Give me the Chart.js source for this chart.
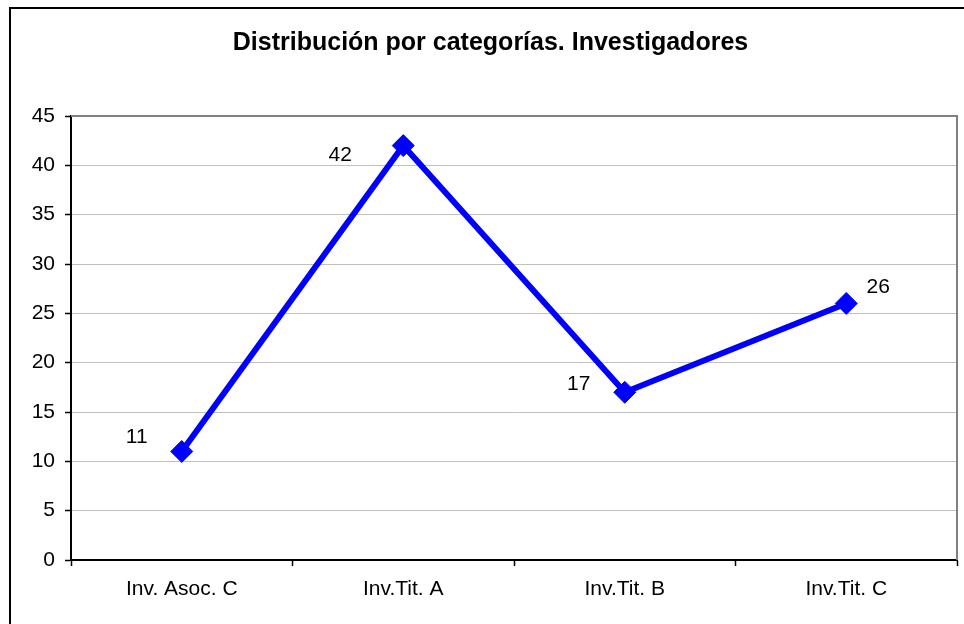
<!DOCTYPE html>
<html>
<head>
<meta charset="utf-8">
<title>Distribución por categorías. Investigadores</title>
<script src="https://cdn.jsdelivr.net/npm/chart.js@4.4.0/dist/chart.umd.min.js"></script>
<style>
    html, body { margin: 0; padding: 0; background: #fff; }
    canvas { display: block; }
</style>
</head>
<body>
<canvas id="chart" width="964" height="624"></canvas>
<script>
const categories = ['Inv. Asoc. C', 'Inv.Tit. A', 'Inv.Tit. B', 'Inv.Tit. C'];
const investigadores = [11, 42, 17, 26];
const yTicks = [0, 5, 10, 15, 20, 25, 30, 35, 40, 45];

const FONT = 'Arial, "Liberation Sans", sans-serif';

// label placement around each point (Excel put them a bit off)
const labelShift = [[-45, -14], [-63, 10], [-46, -8], [32, -16]];

const frame = {
    id: 'frame',
    beforeDatasetsDraw(chart) {
        const { ctx, chartArea: a } = chart;
        ctx.save();
        ctx.strokeStyle = '#808080';
        ctx.lineWidth = 2;
        ctx.beginPath();
        ctx.moveTo(a.left, a.top);
        ctx.lineTo(a.right, a.top);
        ctx.lineTo(a.right, a.bottom);
        ctx.stroke();
        ctx.restore();
    },
    afterDraw(chart) {
        const { ctx, width, height } = chart;
        ctx.save();
        // outer chart border
        ctx.strokeStyle = '#000';
        ctx.lineWidth = 2;
        ctx.beginPath();
        ctx.moveTo(10, height);
        ctx.lineTo(10, 8);
        ctx.lineTo(width, 8);
        ctx.stroke();

        // value labels
        const meta = chart.getDatasetMeta(0);
        ctx.fillStyle = '#000';
        ctx.font = '21px ' + FONT;
        ctx.textAlign = 'center';
        ctx.textBaseline = 'middle';
        meta.data.forEach((pt, i) => {
            const [dx, dy] = labelShift[i];
            ctx.fillText(String(investigadores[i]), pt.x + dx, pt.y + dy);
        });
        ctx.restore();
    }
};

new Chart(document.getElementById('chart'), {
    type: 'line',
    data: {
        labels: categories,
        datasets: [{
            data: investigadores,
            borderColor: '#0000ff',
            backgroundColor: '#0000ff',
            borderWidth: 6,
            tension: 0,
            pointStyle: 'rectRot',
            pointRadius: 11,
            pointBorderWidth: 1,
            pointHoverRadius: 11
        }]
    },
    options: {
        responsive: false,
        animation: false,
        devicePixelRatio: 1,
        layout: {
            autoPadding: false,
            padding: { top: 0, left: 24, right: 7, bottom: 0 }
        },
        plugins: {
            legend: { display: false },
            tooltip: { enabled: false },
            title: {
                display: true,
                text: 'Distribución por categorías. Investigadores',
                color: '#000',
                font: { family: FONT, size: 25, weight: 'bold' },
                padding: { top: 28, bottom: 58 }
            }
        },
        scales: {
            x: {
                offset: true,
                grid: {
                    offset: true,
                    drawOnChartArea: false,
                    tickLength: 6,
                    tickColor: '#000',
                    tickWidth: 1.5
                },
                border: { color: '#000', width: 2 },
                ticks: {
                    color: '#000',
                    padding: 11,
                    maxRotation: 0,
                    font: { family: FONT, size: 21 }
                },
                afterFit(scale) {
                    scale.height = 64;
                    scale.paddingLeft = 0;
                    scale.paddingRight = 0;
                }
            },
            y: {
                min: 0,
                max: 45,
                afterBuildTicks(scale) {
                    scale.ticks = yTicks.map(v => ({ value: v }));
                },
                grid: {
                    color: '#c0c0c0',
                    lineWidth: 1,
                    tickLength: 6,
                    tickColor: '#000',
                    tickWidth: 1.5
                },
                border: { color: '#000', width: 2 },
                ticks: {
                    color: '#000',
                    padding: 10,
                    font: { family: FONT, size: 21 }
                },
                afterFit(scale) { scale.width = 47; }
            }
        }
    },
    plugins: [frame]
});
</script>
</body>
</html>
